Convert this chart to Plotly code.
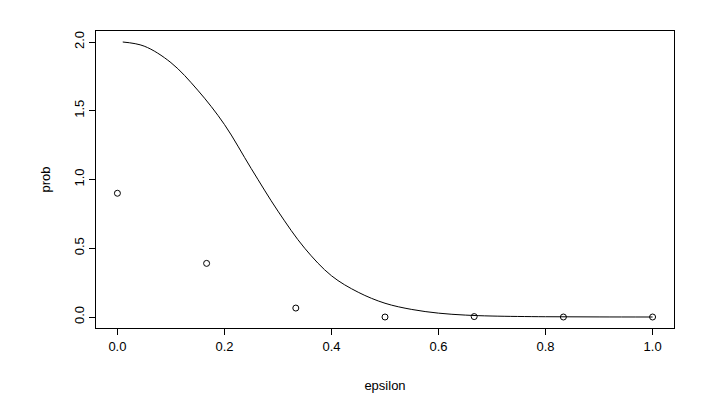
import plotly.graph_objects as go

pt_x = [0, 1/6, 2/6, 3/6, 4/6, 5/6, 1]
pt_y = [0.9, 0.39, 0.065, 0.0, 0.003, 0.0, 0.0]

curve_x = [0.01, 0.05, 0.1, 0.15, 0.2, 0.25, 0.3, 0.35, 0.4, 0.45, 0.5, 0.55, 0.6, 0.65, 0.7, 0.8, 0.9, 1.0]
curve_y = [2.0, 1.97, 1.85, 1.65, 1.4, 1.08, 0.77, 0.5, 0.3, 0.18, 0.1, 0.055, 0.028, 0.014, 0.007, 0.002, 0.0005, 0.0]

fig = go.Figure()
fig.add_trace(go.Scatter(x=curve_x, y=curve_y, mode="lines", line=dict(color="black", width=1, shape="spline")))
fig.add_trace(go.Scatter(x=pt_x, y=pt_y, mode="markers",
                         marker=dict(symbol="circle-open", color="black", size=6, line=dict(width=1))))

ax = dict(showgrid=False, zeroline=False, showline=True, mirror=True, linecolor="black", linewidth=1,
          ticks="outside", ticklen=6, tickcolor="black", tickfont=dict(size=13, color="black"),
          automargin=False)
fig.update_layout(
    width=708, height=404, showlegend=False,
    plot_bgcolor="white", paper_bgcolor="white",
    font=dict(family="Liberation Sans, Arial", color="black"),
    margin=dict(l=88, r=42, t=23, b=84),
    xaxis=dict(range=[-0.04, 1.04], tickvals=[0, 0.2, 0.4, 0.6, 0.8, 1.0],
               ticktext=["0.0", "0.2", "0.4", "0.6", "0.8", "1.0"],
               title=dict(text="epsilon", font=dict(size=13), standoff=28), **ax),
    yaxis=dict(range=[-0.08, 2.08], tickvals=[0, 0.5, 1.0, 1.5, 2.0],
               ticktext=["0.0", "0.5", "1.0", "1.5", "2.0"], tickangle=-90,
               title=dict(text="prob", font=dict(size=13), standoff=18), **ax),
)
fig.write_html("out.html")
